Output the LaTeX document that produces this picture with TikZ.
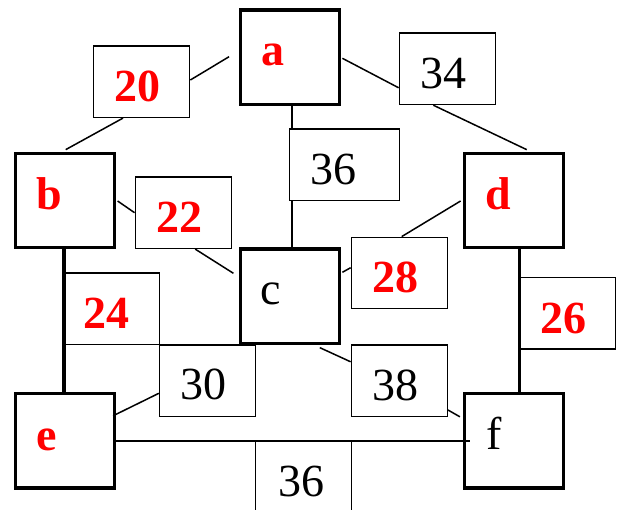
\documentclass[tikz,border=0pt]{standalone}
\usepackage{fontspec}
\setmainfont{Liberation Serif}
\usetikzlibrary{calc,backgrounds}
\begin{document}
\begin{tikzpicture}[x=1pt,y=-1pt,
  bigbox/.style={draw, line width=3.2pt, minimum width=99pt, minimum height=94.5pt, inner sep=0pt},
  wbox/.style={draw, fill=white, line width=1.3pt, minimum width=96pt, minimum height=71.5pt, inner sep=0pt},
  conn/.style={line width=1.5pt},
  heavy/.style={line width=3.2pt},
  rtxt/.style={anchor=base, text=red, font=\fontsize{46}{50}\selectfont\bfseries, inner sep=0pt},
  ktxt/.style={anchor=base, font=\fontsize{46}{50}\selectfont, inner sep=0pt}]
\useasboundingbox (0,0) rectangle (622,510);
% main boxes
\node[bigbox] (a) at (289.8,57.2) {};
\node[bigbox] (b) at (65,200.5) {};
\node[bigbox] (d) at (514.2,200.5) {};
\node[bigbox] (c) at (289.8,296.3) {};
\node[bigbox] (e) at (65,440.8) {};
\node[bigbox] (f) at (514,440.8) {};
% weight boxes
\node[wbox] (w20) at (141.7,81.7) {};
\node[wbox] (w34) at (447.3,68.8) {};
\node[wbox, minimum width=110pt] (w36t) at (344.5,164.8) {};
\node[wbox] (w22) at (183.2,212.7) {};
\node[wbox] (w28) at (399.3,273) {};
\node[wbox] (w24) at (111.3,308.8) {};
\node[wbox] (w26) at (567.5,313.2) {};
\node[wbox] (w30) at (207.5,380.8) {};
\node[wbox] (w38) at (399.3,380.8) {};
\node[wbox] (w36b) at (303.3,476.8) {};
% texts
\node[rtxt] (ta) at (272.7,65.7) {a};
\node[rtxt] (tb) at (49.3,210) {b};
\node[rtxt] (td) at (498.3,209.3) {d};
\node[ktxt] (tc) at (271,304.3) {c};
\node[rtxt] (te) at (46.7,450.3) {e};
\node[ktxt] (tf) at (494,449.3) {f};
\node[rtxt] (t20) at (137.7,101.7) {20};
\node[ktxt] (t34) at (443,88.3) {34};
\node[ktxt] (t36t) at (333.7,185) {36};
\node[rtxt] (t22) at (179.2,232.7) {22};
\node[rtxt] (t28) at (395,292.3) {28};
\node[rtxt] (t24) at (106.7,328.3) {24};
\node[rtxt] (t26) at (563.7,333.3) {26};
\node[ktxt] (t30) at (203.8,400) {30};
\node[ktxt] (t38) at (395.5,401) {38};
\node[ktxt] (t36b) at (301,496.7) {36};
% thin connectors behind the weight boxes
\begin{scope}[on background layer]
\draw[conn] ($(w20.east)+(0,-1.7)$) -- ($(a.west)+(-9.6,-0.5)$);
\draw[conn] ($(w20.south)+(-18.7,0)$) -- ($(b.north)+(0.7,-2)$);
\draw[conn] ($(a.east)+(1.5,1.1)$) -- ($(w34.west)+(0,19)$);
\draw[conn] ($(w34.south)+(-14,0)$) -- ($(d.north)+(12.5,-2)$);
\draw[conn] ($(a.south)+(2,0)$) -- ($(c.north)+(2,0)$);
\draw[conn] ($(b.east)+(1.5,0.5)$) -- (w22.west);
\draw[conn] ($(w22.south)+(12,0)$) -- ($(c.west)+(-5.3,-23)$);
\draw[conn] ($(c.east)+(1.5,-24)$) -- ($(w28.west)+(0,-5.3)$);
\draw[conn] ($(d.west)+(-2.5,0.5)$) -- ($(w28.north)+(2.4,0)$);
\draw[conn] ($(c.south)+(30,2.5)$) -- ($(w38.west)+(0,-19)$);
\draw[conn] ($(w38.east)+(0,29.2)$) -- ($(f.west)+(-3,-24)$);
\draw[conn] ($(e.east)+(-3,-25)$) -- ($(w30.west)+(0,12.5)$);
\draw[conn] ($(e.east)+(-3,0.2)$) -- ($(f.west)+(7.5,0.2)$);
\end{scope}
% heavy connectors along the weight boxes
\draw[heavy] ($(b.south)+(-1,0)$) -- ($(e.north)+(-1,0)$);
\draw[heavy] ($(d.south)+(5.1,0)$) -- ($(f.north)+(5.3,0)$);
\end{tikzpicture}
\end{document}
